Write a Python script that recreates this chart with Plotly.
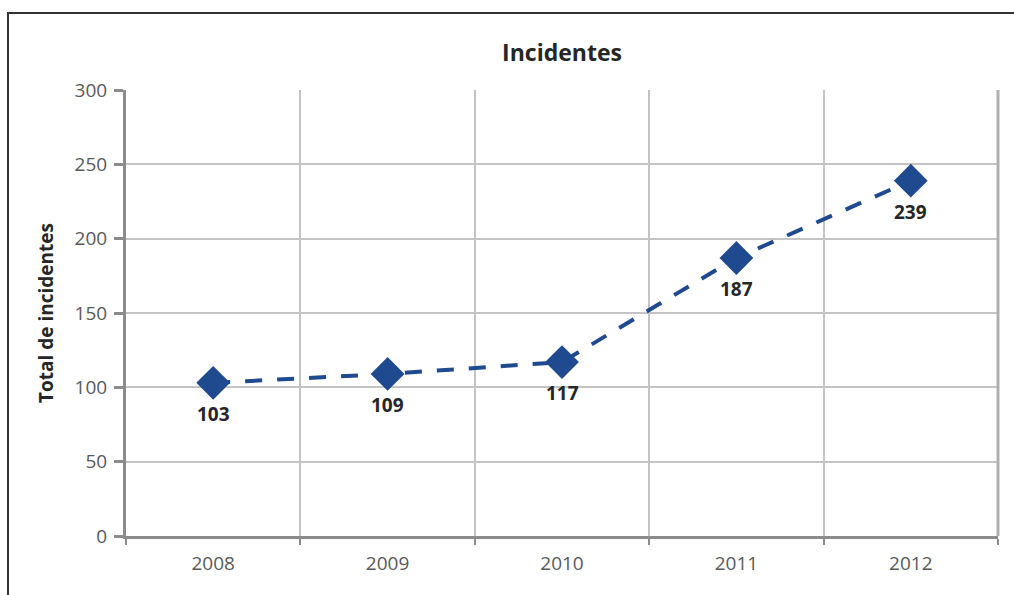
import plotly.graph_objects as go

years = ["2008", "2009", "2010", "2011", "2012"]
incidents = [103, 109, 117, 187, 239]
y_ticks = [0, 50, 100, 150, 200, 250, 300]

L, R, T, B = 126, 16, 90, 59
W, H = 1014, 595
pw, ph = W - L - R, H - T - B

def px_x(x):
    return (x - L) / pw

def px_y(y):
    return (H - B - y) / ph

BLUE = "#1F4A8F"

fig = go.Figure()
fig.add_trace(go.Scatter(
    x=years, y=incidents,
    mode="lines+markers",
    line=dict(color=BLUE, width=4, dash="17px,15px"),
    marker=dict(symbol="diamond", size=26, color=BLUE),
    cliponaxis=False,
    showlegend=False,
))

for i, v in enumerate(incidents):
    fig.add_annotation(x=i, y=v, xref="x", yref="y", text=f"<b>{v}</b>", showarrow=False,
                       yshift=-31, font=dict(family="Open Sans", size=19, color="#262626"))

fig.update_layout(
    width=W, height=H,
    margin=dict(l=L, r=R, t=T, b=B),
    paper_bgcolor="white", plot_bgcolor="white",
    title=dict(text="<b>Incidentes</b>", x=(L + pw / 2) / W, xanchor="center",
               y=1 - 53 / H, yanchor="middle",
               font=dict(family="Open Sans", size=23, color="#262626")),
    font=dict(family="Open Sans"),
    xaxis=dict(
        type="category", range=[-0.5, 4.5],
        tickson="boundaries", showgrid=True, gridcolor="#c4c4c4", gridwidth=2,
        showline=True, linecolor="#8c8c8c", linewidth=3,
        ticks="outside", ticklen=6, tickwidth=2, tickcolor="#8c8c8c",
        tickfont=dict(size=19, color="#595959"),
        ticklabelstandoff=8,
        zeroline=False,
    ),
    yaxis=dict(
        range=[0, 300], tickvals=y_ticks,
        showgrid=True, gridcolor="#c4c4c4", gridwidth=2,
        showline=True, linecolor="#8c8c8c", linewidth=3,
        ticks="outside", ticklen=9, tickwidth=3, tickcolor="#8c8c8c",
        tickfont=dict(size=19, color="#595959"),
        ticklabelstandoff=3,
        zeroline=False,
        title=dict(text="<b>Total de incidentes</b>", standoff=16,
                   font=dict(size=19, color="#262626")),
    ),
    shapes=[
        dict(type="line", xref="paper", yref="paper",
             x0=1, x1=1, y0=0, y1=1, line=dict(color="#b0b0b0", width=3)),
        dict(type="rect", xref="paper", yref="paper",
             x0=px_x(8), x1=px_x(1030), y0=px_y(13), y1=px_y(610),
             line=dict(color="#333333", width=2), layer="below"),
    ],
)

fig.write_html("out.html")
